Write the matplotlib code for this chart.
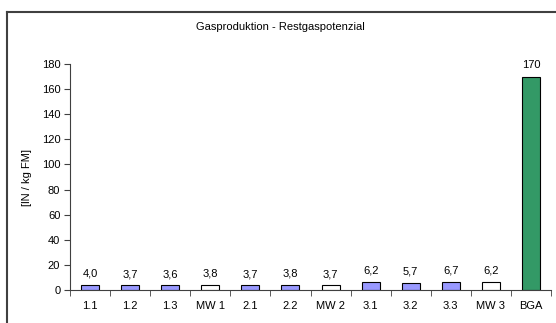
import matplotlib.pyplot as plt
from matplotlib.lines import Line2D
import numpy as np

plt.rcParams['font.family'] = ['Liberation Sans', 'DejaVu Sans']

# Data
categories = ['1.1', '1.2', '1.3', 'MW 1', '2.1', '2.2', 'MW 2', '3.1', '3.2', '3.3', 'MW 3', 'BGA']
values = [4.0, 3.7, 3.6, 3.8, 3.7, 3.8, 3.7, 6.2, 5.7, 6.7, 6.2, 170]
bar_colors = ['#9999FF', '#9999FF', '#9999FF', '#FFFFFF', '#9999FF', '#9999FF', '#FFFFFF',
              '#9999FF', '#9999FF', '#9999FF', '#FFFFFF', '#339966']
yticks = [0, 20, 40, 60, 80, 100, 120, 140, 160, 180]

W, H = 556, 323
fig = plt.figure(figsize=(W / 100, H / 100), dpi=100)
ax = fig.add_axes([70 / W, 1 - 290 / H, (551 - 70) / W, (290 - 64) / H])

x = np.arange(len(categories))
ax.bar(x, values, width=0.45, color=bar_colors, edgecolor='black', linewidth=0.8)

for xi, v in zip(x, values):
    label = f'{v:.0f}' if v >= 100 else f'{v:.1f}'.replace('.', ',')
    ax.text(xi, v + 5, label, ha='center', va='bottom', fontsize=8)

ax.set_xlim(-0.5, len(categories) - 0.5)
ax.set_ylim(0, 180)
ax.set_yticks(yticks)
ax.set_xticks(x)
ax.set_xticklabels(categories)
ax.set_xticks(np.arange(-0.5, len(categories), 1.0), minor=True)
ax.tick_params(axis='x', which='major', length=0, labelsize=8, pad=8)
ax.tick_params(axis='x', which='minor', length=4, direction='out', color='#404040')
ax.tick_params(axis='y', length=4, direction='out', labelsize=8, color='#404040', pad=3)

for s in ['top', 'right']:
    ax.spines[s].set_visible(False)
for s in ['left', 'bottom']:
    ax.spines[s].set_color('#404040')
    ax.spines[s].set_linewidth(0.8)

ax.set_ylabel('[lN / kg FM]', fontsize=8, labelpad=7)
fig.text(280 / W, 1 - 27 / H, 'Gasproduktion - Restgaspotenzial', ha='center', va='center', fontsize=8)

# chart-area frame (left and top edges visible)
fig.add_artist(Line2D([7 / W, 7 / W], [0, 1 - 12 / H], transform=fig.transFigure, color='#404040', lw=1.5))
fig.add_artist(Line2D([7 / W, 1], [1 - 12 / H, 1 - 12 / H], transform=fig.transFigure, color='#404040', lw=1.5))

fig.savefig('out.png', dpi=100)
